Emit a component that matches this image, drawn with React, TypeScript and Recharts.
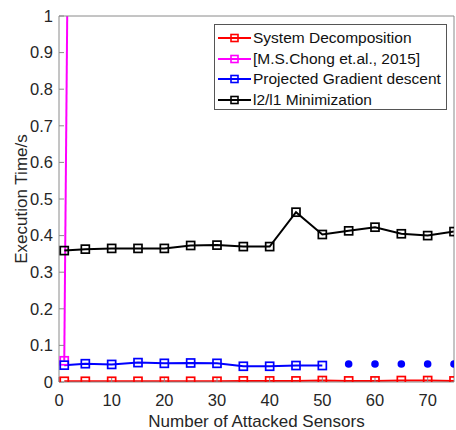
import React from "react";
import { Label, Line, LineChart, XAxis, YAxis } from "recharts";

const FONT = "'Liberation Sans', Arial, Helvetica, sans-serif";
const FRAME = "#8a8a8a";
const TEXT = "#262626";

// x positions (number of attacked sensors)
const sensors = [1, 5, 10, 15, 20, 25, 30, 35, 40, 45, 50, 55, 60, 65, 70, 75];

const systemDecomposition = [
  0.002, 0.002, 0.002, 0.002, 0.002, 0.002, 0.002, 0.003, 0.003, 0.003,
  0.004, 0.003, 0.003, 0.004, 0.004, 0.003,
];
const chongSensors = [1, 5];
const chong2015 = [0.058, 6.8];
const pgdSensors = [1, 5, 10, 15, 20, 25, 30, 35, 40, 45, 50];
const projectedGradient = [
  0.046, 0.05, 0.048, 0.053, 0.051, 0.052, 0.051, 0.043, 0.043, 0.045, 0.045,
];
const pgdDotSensors = [55, 60, 65, 70, 75];
const pgdDots = [0.049, 0.049, 0.049, 0.049, 0.049];
const l2l1 = [
  0.359, 0.363, 0.365, 0.365, 0.365, 0.373, 0.374, 0.37, 0.37, 0.464, 0.403,
  0.413, 0.423, 0.405, 0.4, 0.411,
];

const xTicks = [0, 10, 20, 30, 40, 50, 60, 70];
const yTicks = [0, 0.1, 0.2, 0.3, 0.4, 0.5, 0.6, 0.7, 0.8, 0.9, 1];

const legendNames = [
  "System Decomposition",
  "[M.S.Chong et.al., 2015]",
  "Projected Gradient descent",
  "l2/l1 Minimization",
];
const legendColors = ["#ff0000", "#ff00ff", "#0000ff", "#000000"];

const sdData = sensors.map((x, i) => ({ x, y: systemDecomposition[i] }));
const chongData = chongSensors.map((x, i) => ({ x, y: chong2015[i] }));
const pgdData = pgdSensors.map((x, i) => ({ x, y: projectedGradient[i] }));
const pgdDotData = pgdDotSensors.map((x, i) => ({ x, y: pgdDots[i] }));
const l2l1Data = sensors.map((x, i) => ({ x, y: l2l1[i] }));

const squareDot = (color: string) => (props: any) => {
  const { cx, cy, index } = props;
  if (cx == null || cy == null) return <g key={index} />;
  return (
    <rect
      key={index}
      x={cx - 4}
      y={cy - 4}
      width={8}
      height={8}
      fill="none"
      stroke={color}
      strokeWidth={1.7}
    />
  );
};

const roundDot = (color: string) => (props: any) => {
  const { cx, cy, index } = props;
  if (cx == null || cy == null) return <g key={index} />;
  return <circle key={index} cx={cx} cy={cy} r={3.8} fill={color} />;
};

function LegendBox() {
  return (
    <div
      style={{
        position: "absolute",
        left: 214,
        top: 24,
        width: 233,
        height: 86,
        border: "1px solid #555",
        background: "#fff",
        fontFamily: FONT,
        fontSize: 15.5,
        color: "#111",
        padding: "3px 0 0 0",
        boxSizing: "border-box",
      }}
    >
      {legendNames.map((name, i) => (
        <div
          key={name}
          style={{ display: "flex", alignItems: "center", height: 20.5 }}
        >
          <svg width={38} height={20} style={{ flex: "none" }}>
            <line
              x1={3}
              x2={36}
              y1={10}
              y2={10}
              stroke={legendColors[i]}
              strokeWidth={2}
            />
            <rect
              x={16}
              y={6.5}
              width={7}
              height={7}
              fill="none"
              stroke={legendColors[i]}
              strokeWidth={1.6}
            />
          </svg>
          <span style={{ whiteSpace: "nowrap" }}>{name}</span>
        </div>
      ))}
    </div>
  );
}

export default function App() {
  const tickStyle = { fontSize: 16.5, fill: TEXT, fontFamily: FONT };
  const titleStyle = { fontSize: 17, fill: TEXT, fontFamily: FONT };
  return (
    <div
      style={{
        position: "absolute",
        left: 0,
        top: 0,
        width: 456,
        height: 430,
        background: "#fff",
      }}
    >
      <LineChart
        width={456}
        height={430}
        margin={{ top: 15, right: 1, bottom: 0, left: 0 }}
      >
        <XAxis
          dataKey="x"
          type="number"
          domain={[0, 75]}
          ticks={xTicks}
          allowDataOverflow
          height={48}
          tickSize={-5}
          tickMargin={17}
          stroke={FRAME}
          tick={tickStyle}
        >
          <Label
            value="Number of Attacked Sensors"
            position="insideBottom"
            offset={3}
            style={titleStyle}
          />
        </XAxis>
        <XAxis
          xAxisId="top"
          orientation="top"
          type="number"
          domain={[0, 75]}
          ticks={xTicks}
          height={1}
          tickSize={-5}
          stroke={FRAME}
          tick={false}
        />
        <YAxis
          type="number"
          domain={[0, 1]}
          ticks={yTicks}
          allowDataOverflow
          width={59}
          tickSize={-5}
          tickMargin={11}
          stroke={FRAME}
          tick={tickStyle}
        >
          <Label
            value="Execution Time/s"
            angle={-90}
            position="center"
            dx={-9}
            style={titleStyle}
          />
        </YAxis>
        <YAxis
          yAxisId="right"
          orientation="right"
          type="number"
          domain={[0, 1]}
          ticks={yTicks}
          width={1}
          tickSize={-5}
          stroke={FRAME}
          tick={false}
        />
        <Line
          data={sdData}
          dataKey="y"
          name={legendNames[0]}
          stroke={legendColors[0]}
          strokeWidth={2}
          dot={squareDot(legendColors[0])}
          isAnimationActive={false}
        />
        <Line
          data={chongData}
          dataKey="y"
          name={legendNames[1]}
          stroke={legendColors[1]}
          strokeWidth={2}
          dot={squareDot(legendColors[1])}
          isAnimationActive={false}
        />
        <Line
          data={pgdData}
          dataKey="y"
          name={legendNames[2]}
          stroke={legendColors[2]}
          strokeWidth={2}
          dot={squareDot(legendColors[2])}
          isAnimationActive={false}
        />
        <Line
          data={pgdDotData}
          dataKey="y"
          stroke="none"
          legendType="none"
          dot={roundDot(legendColors[2])}
          isAnimationActive={false}
        />
        <Line
          data={l2l1Data}
          dataKey="y"
          name={legendNames[3]}
          stroke={legendColors[3]}
          strokeWidth={2}
          dot={squareDot(legendColors[3])}
          isAnimationActive={false}
        />
      </LineChart>
      <LegendBox />
    </div>
  );
}
